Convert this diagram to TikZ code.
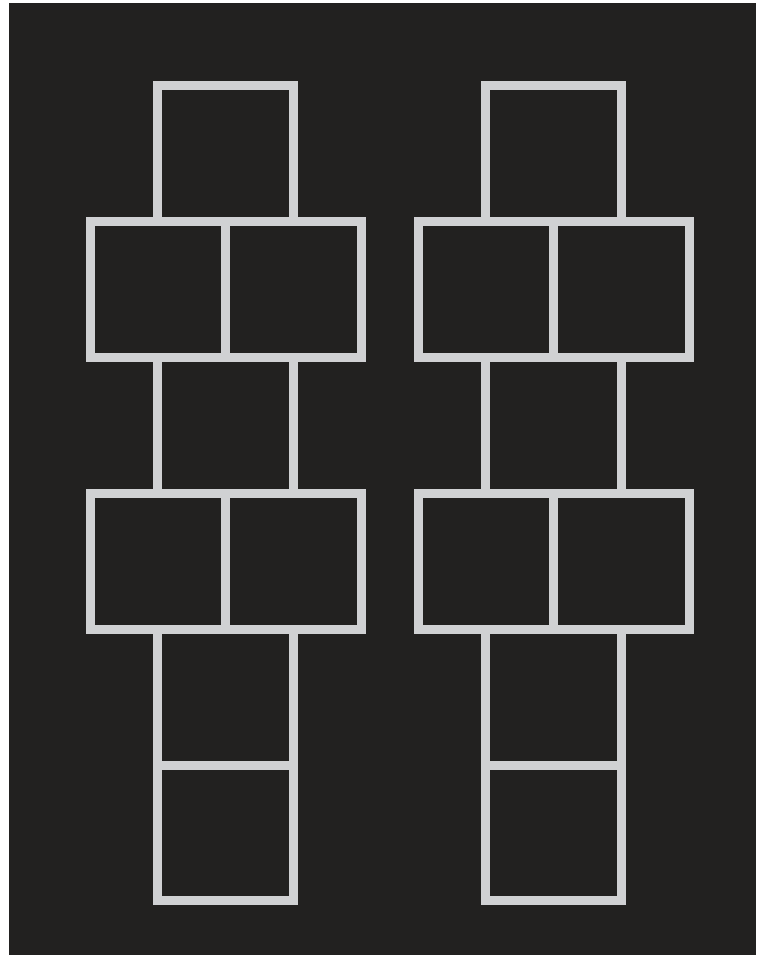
\documentclass[tikz,border=0pt]{standalone}
\definecolor{bgdark}{HTML}{222120}
\definecolor{linegray}{HTML}{D0D1D3}
\tikzset{
  cell/.style={draw=linegray, line width=9pt, line join=miter},
}
\begin{document}
\begin{tikzpicture}[x=1pt,y=-1pt]
\useasboundingbox (0,0) rectangle (762,955);
\fill[white] (0,0) rectangle (762,955);
\fill[bgdark] (9,3) rectangle (756,955);
\def\s{135.8}
\foreach \L in {90,418}{
  % top box
  \draw[cell] (\L+67.9,86) rectangle (\L+203.7,221.8);
  % first wide row
  \draw[cell] (\L,221.8) rectangle (\L+271.6,357.6);
  \draw[cell] (\L+135.8,221.8) -- (\L+135.8,357.6);
  % middle box
  \draw[cell] (\L+67.9,357.6) rectangle (\L+203.7,493.4);
  % second wide row
  \draw[cell] (\L,493.4) rectangle (\L+271.6,629.2);
  \draw[cell] (\L+135.8,493.4) -- (\L+135.8,629.2);
  % lower boxes
  \draw[cell] (\L+67.9,629.2) rectangle (\L+203.7,765);
  \draw[cell] (\L+67.9,765) rectangle (\L+203.7,900.8);
}
\end{tikzpicture}
\end{document}
